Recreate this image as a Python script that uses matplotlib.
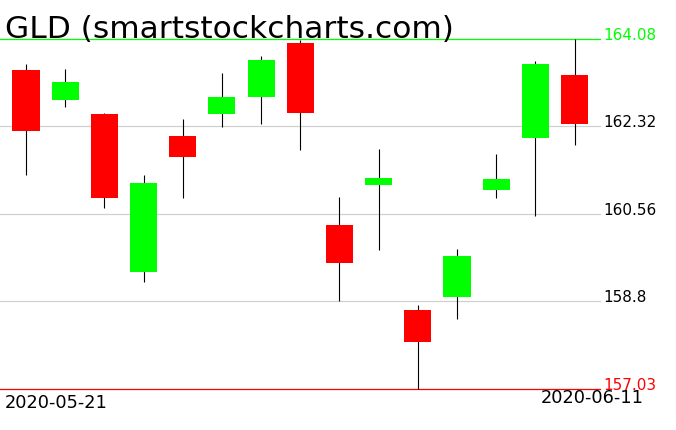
import matplotlib
matplotlib.use('Agg')
import matplotlib.pyplot as plt
import matplotlib.transforms as mtransforms

# Daily OHLC for GLD
dates = ['2020-05-21', '2020-05-22', '2020-05-26', '2020-05-27', '2020-05-28',
         '2020-05-29', '2020-06-01', '2020-06-02', '2020-06-03', '2020-06-04',
         '2020-06-05', '2020-06-08', '2020-06-09', '2020-06-10', '2020-06-11']
opens = [163.46, 162.86, 162.57, 159.39, 162.13, 162.56, 162.92, 164.00,
         160.33, 161.13, 158.62, 158.89, 161.04, 162.09, 163.36]
highs = [163.58, 163.48, 162.58, 161.34, 162.47, 163.40, 163.74, 164.05,
         160.90, 161.86, 158.72, 159.85, 161.76, 163.64, 164.08]
lows = [161.35, 162.72, 160.68, 159.19, 160.88, 162.31, 162.37, 161.85,
        158.81, 159.82, 157.03, 158.45, 160.87, 160.52, 161.95]
closes = [162.23, 163.21, 160.88, 161.18, 161.71, 162.91, 163.66, 162.58,
          159.57, 161.28, 157.98, 159.71, 161.26, 163.58, 162.37]

levels = [164.08, 162.32, 160.56, 158.8, 157.03]
level_labels = ['164.08', '162.32', '160.56', '158.8', '157.03']

W, H = 676, 431
fig = plt.figure(figsize=(W / 100, H / 100), dpi=100)
fig.patch.set_facecolor('white')

# plot area: x 0..600 px, y 40..390 px (top line to bottom line)
ax = fig.add_axes([0, (H - 390) / H, 600 / W, 350 / H])
ax.set_axis_off()

top, bottom = max(highs), min(lows)
ax.set_ylim(bottom, top)
ax.set_xlim(-0.664, 14.65)


def level_color(lv):
    if lv == top:
        return '#00ff00'
    if lv == bottom:
        return '#ff0000'
    return None


# horizontal reference lines + price labels on the right
trans = mtransforms.blended_transform_factory(ax.transAxes, ax.transData)
for lv, lab in zip(levels, level_labels):
    col = level_color(lv)
    ax.axhline(lv, color=col or '#d0d0d0', linewidth=0.9, zorder=1, clip_on=False)
    ax.text(603 / 600, lv, lab, transform=trans, color=col or 'black',
            fontsize=11, va='baseline', ha='left', clip_on=False)

x = list(range(len(dates)))
ax.vlines(x, lows, highs, color='black', linewidth=0.8, zorder=2, clip_on=False)
body_bottom = [min(o, c) for o, c in zip(opens, closes)]
body_height = [abs(c - o) for o, c in zip(opens, closes)]
colors = ['#00ff00' if c >= o else '#ff0000' for o, c in zip(opens, closes)]
ax.bar(x, body_height, bottom=body_bottom, width=0.69, color=colors,
       zorder=3, clip_on=False)

fig.text(5 / W, 1 - 38 / H, 'GLD (smartstockcharts.com)', fontsize=22.5,
         va='baseline', ha='left', color='black')
fig.text(5 / W, 1 - 394 / H, dates[0], fontsize=12.8, va='top', ha='left')
fig.text(644 / W, 1 - 389 / H, dates[-1], fontsize=12.8, va='top', ha='right')

fig.savefig('out.png', dpi=100)
